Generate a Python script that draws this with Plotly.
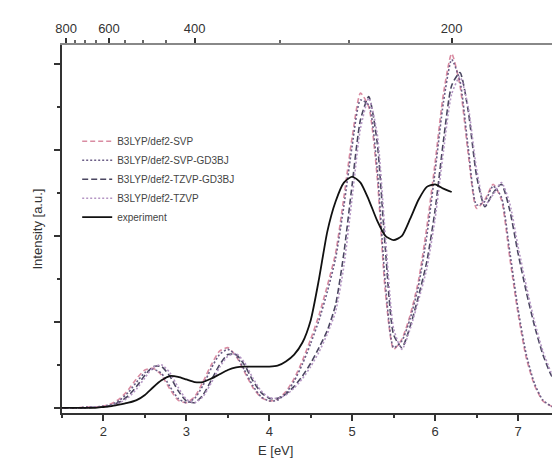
import plotly.graph_objects as go

# Photon energy grid (eV) for the computed spectra
energy_calc = [1.5, 1.6, 1.7, 1.8, 1.9, 2.0, 2.1, 2.2, 2.3, 2.4, 2.5, 2.6, 2.7, 2.8, 2.9,
               3.0, 3.1, 3.2, 3.3, 3.4, 3.5, 3.6, 3.7, 3.8, 3.9, 4.0, 4.1, 4.2, 4.3, 4.4,
               4.5, 4.6, 4.7, 4.8, 4.9, 5.0, 5.1, 5.2, 5.3, 5.4, 5.5, 5.6, 5.7, 5.8, 5.9,
               6.0, 6.1, 6.2, 6.3, 6.4, 6.5, 6.6, 6.7, 6.8, 6.9, 7.0, 7.1, 7.2, 7.3, 7.4, 7.5]

svp = [0.00, 0.00, 0.00, 0.01, 0.01, 0.02, 0.05, 0.11, 0.21, 0.34, 0.44, 0.46, 0.38, 0.22, 0.09,
       0.06, 0.13, 0.30, 0.50, 0.66, 0.70, 0.60, 0.42, 0.24, 0.12, 0.08, 0.10, 0.19, 0.34, 0.55,
       0.80, 1.08, 1.42, 1.80, 2.45, 3.15, 3.66, 3.50, 2.70, 1.35, 0.68, 0.80, 1.08, 1.48, 2.10,
       2.85, 3.65, 4.12, 3.75, 2.95, 2.32, 2.42, 2.60, 2.42, 1.75, 1.10, 0.58, 0.26, 0.08, 0.02, 0.00]

svp_gd3bj = [0.00, 0.00, 0.00, 0.01, 0.01, 0.02, 0.04, 0.09, 0.18, 0.30, 0.41, 0.45, 0.40, 0.25, 0.11,
             0.06, 0.11, 0.26, 0.46, 0.62, 0.68, 0.61, 0.44, 0.26, 0.13, 0.08, 0.09, 0.17, 0.31, 0.51,
             0.75, 1.02, 1.35, 1.74, 2.35, 3.05, 3.58, 3.52, 2.80, 1.45, 0.70, 0.78, 1.04, 1.42, 2.00,
             2.75, 3.55, 4.05, 3.80, 3.02, 2.36, 2.40, 2.58, 2.45, 1.82, 1.15, 0.62, 0.28, 0.09, 0.02, 0.00]

tzvp_gd3bj = [0.00, 0.00, 0.00, 0.00, 0.01, 0.01, 0.03, 0.07, 0.14, 0.25, 0.38, 0.48, 0.48, 0.37, 0.20,
              0.08, 0.06, 0.15, 0.32, 0.50, 0.62, 0.62, 0.50, 0.32, 0.18, 0.11, 0.11, 0.16, 0.25, 0.37,
              0.52, 0.70, 0.90, 1.20, 1.80, 2.60, 3.35, 3.62, 3.10, 1.85, 0.85, 0.70, 0.95, 1.30, 1.70,
              2.30, 3.10, 3.75, 3.90, 3.45, 2.70, 2.34, 2.50, 2.60, 2.30, 1.80, 1.35, 0.95, 0.62, 0.38, 0.22]

tzvp = [0.00, 0.00, 0.00, 0.00, 0.01, 0.01, 0.03, 0.06, 0.12, 0.22, 0.35, 0.47, 0.50, 0.41, 0.24,
        0.10, 0.06, 0.13, 0.29, 0.47, 0.60, 0.63, 0.53, 0.35, 0.20, 0.12, 0.11, 0.15, 0.23, 0.34,
        0.48, 0.65, 0.86, 1.12, 1.65, 2.45, 3.25, 3.60, 3.20, 2.00, 0.92, 0.68, 0.92, 1.25, 1.62,
        2.20, 2.98, 3.65, 3.85, 3.50, 2.78, 2.36, 2.48, 2.62, 2.38, 1.88, 1.42, 1.00, 0.66, 0.41, 0.24]

# Measured spectrum
energy_exp = [1.5, 1.6, 1.7, 1.8, 1.9, 2.0, 2.1, 2.2, 2.3, 2.4, 2.5, 2.6, 2.7, 2.8, 2.9,
              3.0, 3.1, 3.2, 3.3, 3.4, 3.5, 3.6, 3.7, 3.8, 3.9, 4.0, 4.1, 4.2, 4.3, 4.4,
              4.5, 4.6, 4.7, 4.8, 4.9, 5.0, 5.1, 5.2, 5.3, 5.4, 5.5, 5.6, 5.7, 5.8, 5.9,
              6.0, 6.1, 6.2]
experiment = [0.00, 0.00, 0.00, 0.00, 0.00, 0.01, 0.02, 0.04, 0.06, 0.09, 0.15, 0.24, 0.32, 0.37, 0.36,
              0.33, 0.30, 0.30, 0.34, 0.39, 0.44, 0.47, 0.48, 0.48, 0.48, 0.48, 0.49, 0.54, 0.62, 0.76,
              1.02, 1.50, 2.05, 2.40, 2.62, 2.69, 2.62, 2.42, 2.18, 2.00, 1.95, 2.00, 2.20, 2.42, 2.57,
              2.60, 2.55, 2.51]

# Wavelength axis (nm) on top
wl_labels = [800, 600, 400, 200]
wl_minor = [750, 700, 650, 550, 500, 450, 300, 250]
HC = 1240.0  # eV*nm

series = [
    ("B3LYP/def2-SVP", svp, "#d98ca2", "5px,3px"),
    ("B3LYP/def2-SVP-GD3BJ", svp_gd3bj, "#6b5d86", "2px,2px"),
    ("B3LYP/def2-TZVP-GD3BJ", tzvp_gd3bj, "#4a4660", "6px,3px"),
    ("B3LYP/def2-TZVP", tzvp, "#b596c4", "2px,2px"),
]

fig = go.Figure()
for name, vals, color, dash in series:
    fig.add_trace(go.Scatter(x=energy_calc, y=vals, name=name, mode="lines",
                             line=dict(color=color, width=1.6, dash=dash,
                                       shape="spline", smoothing=0.6)))
fig.add_trace(go.Scatter(x=energy_exp, y=experiment, name="experiment", mode="lines",
                         line=dict(color="#111111", width=1.8, shape="spline", smoothing=0.6)))
# carrier for the wavelength axis
fig.add_trace(go.Scatter(x=energy_exp, y=experiment, xaxis="x2", mode="lines",
                         line=dict(width=0), opacity=0, showlegend=False, hoverinfo="skip"))

font = "Liberation Sans, Arial, sans-serif"
axis_col = "#333333"

fig.update_layout(
    width=552, height=471,
    margin=dict(l=62, r=0, t=45, b=58),
    paper_bgcolor="white", plot_bgcolor="white",
    font=dict(family=font, color=axis_col, size=13),
    showlegend=True,
    legend=dict(x=0.031, y=0.778, xanchor="left", yanchor="top",
                bgcolor="rgba(0,0,0,0)", font=dict(size=10, color="#444444"),
                itemwidth=30),
    xaxis=dict(range=[1.5, 7.41], showline=True, linecolor=axis_col, linewidth=1.5,
               ticks="outside", ticklen=6, tickwidth=1.5, tickcolor=axis_col,
               tick0=0, dtick=1, showgrid=False, zeroline=False,
               minor=dict(dtick=0.5, ticks="outside", ticklen=3, tickcolor=axis_col),
               tickfont=dict(size=13), mirror=False),
    xaxis2=dict(range=[1.5, 7.41], overlaying="x", side="top", anchor="y",
                showline=True, linecolor="#888888", linewidth=1.5,
                tickmode="array", tickvals=[HC / w for w in wl_labels],
                ticktext=[str(w) for w in wl_labels],
                ticks="outside", ticklen=5, tickwidth=1.5, tickcolor=axis_col,
                minor=dict(tickmode="array", tickvals=[HC / w for w in wl_minor],
                           ticks="outside", ticklen=3, tickcolor="#666666"),
                showgrid=False, zeroline=False, tickfont=dict(size=13)),
    yaxis=dict(range=[-0.06, 4.22], showline=True, linecolor=axis_col, linewidth=1.5,
               showticklabels=False, ticks="outside", ticklen=6, tickwidth=1.5,
               tickcolor=axis_col, tick0=0, dtick=1, showgrid=False, zeroline=False,
               minor=dict(dtick=0.5, ticks="outside", ticklen=3, tickcolor=axis_col)),
    annotations=[
        dict(text="E [eV]", xref="x", yref="paper", x=4.07, y=0, yshift=-47,
             showarrow=False, font=dict(size=13, color=axis_col)),
        dict(text="Intensity [a.u.]", xref="paper", yref="paper", x=0, xshift=-35,
             y=0.5, textangle=-90, showarrow=False, font=dict(size=13, color=axis_col)),
    ],
)

fig.write_html("out.html")
